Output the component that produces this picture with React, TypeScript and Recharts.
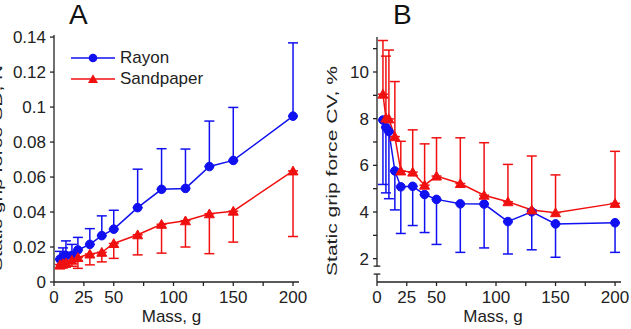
import React from "react";
import {
  LineChart,
  Line,
  XAxis,
  YAxis,
  ErrorBar,
  Legend,
  ReferenceLine,
  Label,
} from "recharts";

const BLUE = "#1010f0";
const RED = "#f01010";
const INK = "#222";
const FONT = "'Liberation Sans', Arial, sans-serif";

const masses = [5, 7.5, 10, 15, 20, 30, 40, 50, 70, 90, 110, 130, 150, 200];

// A: SD of static grip force (N); rayon SD drawn upward, sandpaper SD downward
const rayonSd = [0.013, 0.0145, 0.0152, 0.0152, 0.0183, 0.0215, 0.0265, 0.0302, 0.0425, 0.053, 0.0535, 0.066, 0.0695, 0.0948];
const rayonSdErr = [0.0045, 0.005, 0.0083, 0.0063, 0.0072, 0.009, 0.0113, 0.0108, 0.022, 0.0232, 0.0225, 0.026, 0.0303, 0.0419];
const sandSd = [0.01, 0.0105, 0.011, 0.0125, 0.014, 0.016, 0.017, 0.022, 0.027, 0.033, 0.035, 0.039, 0.0405, 0.0635];
const sandSdErr = [0.0025, 0.0025, 0.0025, 0.0035, 0.0062, 0.0062, 0.0055, 0.0085, 0.0115, 0.0165, 0.015, 0.0228, 0.0177, 0.0375];

// B: CV of static grip force (%); rayon SD downward, sandpaper SD upward
const rayonCv = [7.94, 7.63, 7.45, 5.76, 5.08, 5.1, 4.75, 4.54, 4.35, 4.34, 3.59, 4.01, 3.49, 3.54];
const rayonCvErr = [2.76, 2.81, 2.88, 1.67, 2.0, 1.68, 1.63, 1.93, 2.08, 1.88, 1.39, 1.63, 1.43, 1.27];
const sandCv = [9.05, 8.03, 7.99, 7.23, 5.76, 5.71, 5.15, 5.54, 5.22, 4.72, 4.44, 4.09, 3.97, 4.37];
const sandCvErr = [2.3, 2.65, 2.95, 2.36, 1.27, 1.81, 1.77, 1.64, 1.96, 2.25, 1.6, 2.31, 1.62, 2.23];

const massTicks = [0, 25, 50, 75, 100, 125, 150, 175, 200];
const massLabels = [0, 25, 50, 100, 150, 200];
const sdTicks = [0, 0.02, 0.04, 0.06, 0.08, 0.1, 0.12, 0.14];
const cvTicks = [2, 3, 4, 5, 6, 7, 8, 9, 10, 11];
const cvLabels = [2, 4, 6, 8, 10];

const sdRows = masses.map((m, i) => ({
  mass: m,
  rayon: rayonSd[i],
  rayonErr: [0, rayonSdErr[i]],
  sand: sandSd[i],
  sandErr: [sandSdErr[i], 0],
}));

const cvRows = masses.map((m, i) => ({
  mass: m,
  rayon: rayonCv[i],
  rayonErr: [rayonCvErr[i], 0],
  sand: sandCv[i],
  sandErr: [0, sandCvErr[i]],
}));

const tickStyle = { fontSize: 17, fill: INK, fontFamily: FONT };

const circleDot = (p: any) => (
  <circle key={`c-${p.index}`} cx={p.cx} cy={p.cy} r={4.3} fill={BLUE} stroke={BLUE} />
);

const triangleDot = (p: any) => (
  <path
    key={`t-${p.index}`}
    d={`M${p.cx},${p.cy - 4.8} L${p.cx - 5},${p.cy + 4} L${p.cx + 5},${p.cy + 4} Z`}
    fill={RED}
    stroke={RED}
  />
);

const renderLegend = (props: any) => (
  <div style={{ fontFamily: FONT, fontSize: 17, color: INK }}>
    {(props.payload || []).map((e: any) => (
      <div key={e.value} style={{ display: "flex", alignItems: "center", height: 21.6 }}>
        <svg width={44} height={16} style={{ marginRight: 5 }}>
          <line x1={0} y1={8} x2={44} y2={8} stroke={e.color} strokeWidth={1.5} />
          {e.dataKey === "rayon" ? (
            <circle cx={22} cy={8} r={4.3} fill={e.color} />
          ) : (
            <path d="M22,3.2 L17,12 L27,12 Z" fill={e.color} />
          )}
        </svg>
        <span>{e.value}</span>
      </div>
    ))}
  </div>
);

const yTitle = (text: string, x: number, y: number, len: number) => () => (
  <text
    x={x}
    y={y}
    transform={`rotate(-90 ${x} ${y})`}
    textAnchor="middle"
    fontSize={15}
    fontFamily={FONT}
    fill={INK}
    textLength={len}
    lengthAdjust="spacingAndGlyphs"
  >
    {text}
  </text>
);

const xTitle = (shift: number) => (props: any) => {
  const vb = props.viewBox || { x: 0, y: 0, width: 0, height: 0 };
  return (
    <text
      x={vb.x + vb.width / 2 + shift}
      y={vb.y + vb.height}
      textAnchor="middle"
      fontSize={17}
      fontFamily={FONT}
      fill={INK}
    >
      Mass, g
    </text>
  );
};

const panelTitle = (letter: string, left: number) => (
  <div
    style={{
      position: "absolute",
      left,
      top: 1,
      fontSize: 28,
      lineHeight: "28px",
      fontFamily: FONT,
      color: "#111",
    }}
  >
    {letter}
  </div>
);

export default function App() {
  return (
    <div
      style={{
        position: "absolute",
        left: 0,
        top: 0,
        width: 631,
        height: 329,
        background: "#fff",
        overflow: "hidden",
        fontFamily: FONT,
      }}
    >
      <div style={{ position: "absolute", left: 0, top: 0 }}>
        <LineChart
          width={310}
          height={329}
          data={sdRows}
          margin={{ top: 35, right: 11, bottom: 7, left: 10 }}
        >
          <XAxis
            dataKey="mass"
            type="number"
            domain={[0, 205]}
            ticks={massTicks}
            tickFormatter={(v: number) => (massLabels.includes(v) ? String(v) : "")}
            tick={tickStyle}
            tickSize={4}
            tickMargin={5}
            height={40}
            stroke={INK}
            strokeWidth={1.3}
            allowDataOverflow
          >
            <Label content={xTitle(-5)} />
          </XAxis>
          <YAxis
            type="number"
            domain={[0, 0.1412]}
            ticks={sdTicks}
            tick={tickStyle}
            tickSize={4}
            tickMargin={4}
            width={44}
            stroke={INK}
            strokeWidth={1.3}
            allowDataOverflow
          >
            <Label content={yTitle("Static grip force SD, N", 2, 168, 206)} />
          </YAxis>
          {/* centered/middle so the legend takes no room from the plot; moved by wrapperStyle */}
          <Legend
            content={renderLegend}
            layout="vertical"
            verticalAlign="middle"
            align="center"
            wrapperStyle={{ left: 71, top: 47, width: "auto" }}
          />
          <Line
            dataKey="rayon"
            name="Rayon"
            type="linear"
            stroke={BLUE}
            strokeWidth={1.5}
            dot={circleDot}
            activeDot={false}
            isAnimationActive={false}
          >
            <ErrorBar dataKey="rayonErr" direction="y" width={5} stroke={BLUE} strokeWidth={1.5} isAnimationActive={false} />
          </Line>
          <Line
            dataKey="sand"
            name="Sandpaper"
            type="linear"
            stroke={RED}
            strokeWidth={1.5}
            dot={triangleDot}
            activeDot={false}
            isAnimationActive={false}
          >
            <ErrorBar dataKey="sandErr" direction="y" width={5} stroke={RED} strokeWidth={1.5} isAnimationActive={false} />
          </Line>
        </LineChart>
      </div>
      {panelTitle("A", 69)}

      <div style={{ position: "absolute", left: 316, top: 0 }}>
        <LineChart
          width={315}
          height={329}
          data={cvRows}
          margin={{ top: 37, right: 10, bottom: 7, left: 31 }}
        >
          <XAxis
            dataKey="mass"
            type="number"
            domain={[0, 205]}
            ticks={massTicks}
            tickFormatter={(v: number) => (massLabels.includes(v) ? String(v) : "")}
            tick={tickStyle}
            tickSize={4}
            tickMargin={5}
            height={40}
            stroke={INK}
            strokeWidth={1.3}
            allowDataOverflow
          >
            <Label content={xTitle(-6)} />
          </XAxis>
          <YAxis
            type="number"
            domain={[1, 11.5]}
            ticks={cvTicks}
            tickFormatter={(v: number) => (cvLabels.includes(v) ? String(v) : "")}
            tick={tickStyle}
            tickSize={4}
            tickMargin={4}
            width={30}
            axisLine={false}
            stroke={INK}
            strokeWidth={1.3}
            allowDataOverflow
          >
            <Label content={yTitle("Static grip force CV, %", 21, 171, 210)} />
          </YAxis>
          {/* broken y axis: upper part, gap, stub down to the x axis */}
          <ReferenceLine segment={[{ x: 0, y: 1.68 }, { x: 0, y: 11.5 }]} stroke={INK} strokeWidth={1.3} ifOverflow="visible" />
          <ReferenceLine segment={[{ x: 0, y: 1 }, { x: 0, y: 1.34 }]} stroke={INK} strokeWidth={1.3} ifOverflow="visible" />
          <ReferenceLine segment={[{ x: -2.8, y: 1.68 }, { x: 2.8, y: 1.68 }]} stroke={INK} strokeWidth={1.3} ifOverflow="visible" />
          <ReferenceLine segment={[{ x: -2.8, y: 1.34 }, { x: 2.8, y: 1.34 }]} stroke={INK} strokeWidth={1.3} ifOverflow="visible" />
          <Line
            dataKey="rayon"
            name="Rayon"
            type="linear"
            stroke={BLUE}
            strokeWidth={1.5}
            dot={circleDot}
            activeDot={false}
            isAnimationActive={false}
          >
            <ErrorBar dataKey="rayonErr" direction="y" width={5} stroke={BLUE} strokeWidth={1.5} isAnimationActive={false} />
          </Line>
          <Line
            dataKey="sand"
            name="Sandpaper"
            type="linear"
            stroke={RED}
            strokeWidth={1.5}
            dot={triangleDot}
            activeDot={false}
            isAnimationActive={false}
          >
            <ErrorBar dataKey="sandErr" direction="y" width={5} stroke={RED} strokeWidth={1.5} isAnimationActive={false} />
          </Line>
        </LineChart>
      </div>
      {panelTitle("B", 393)}
    </div>
  );
}
